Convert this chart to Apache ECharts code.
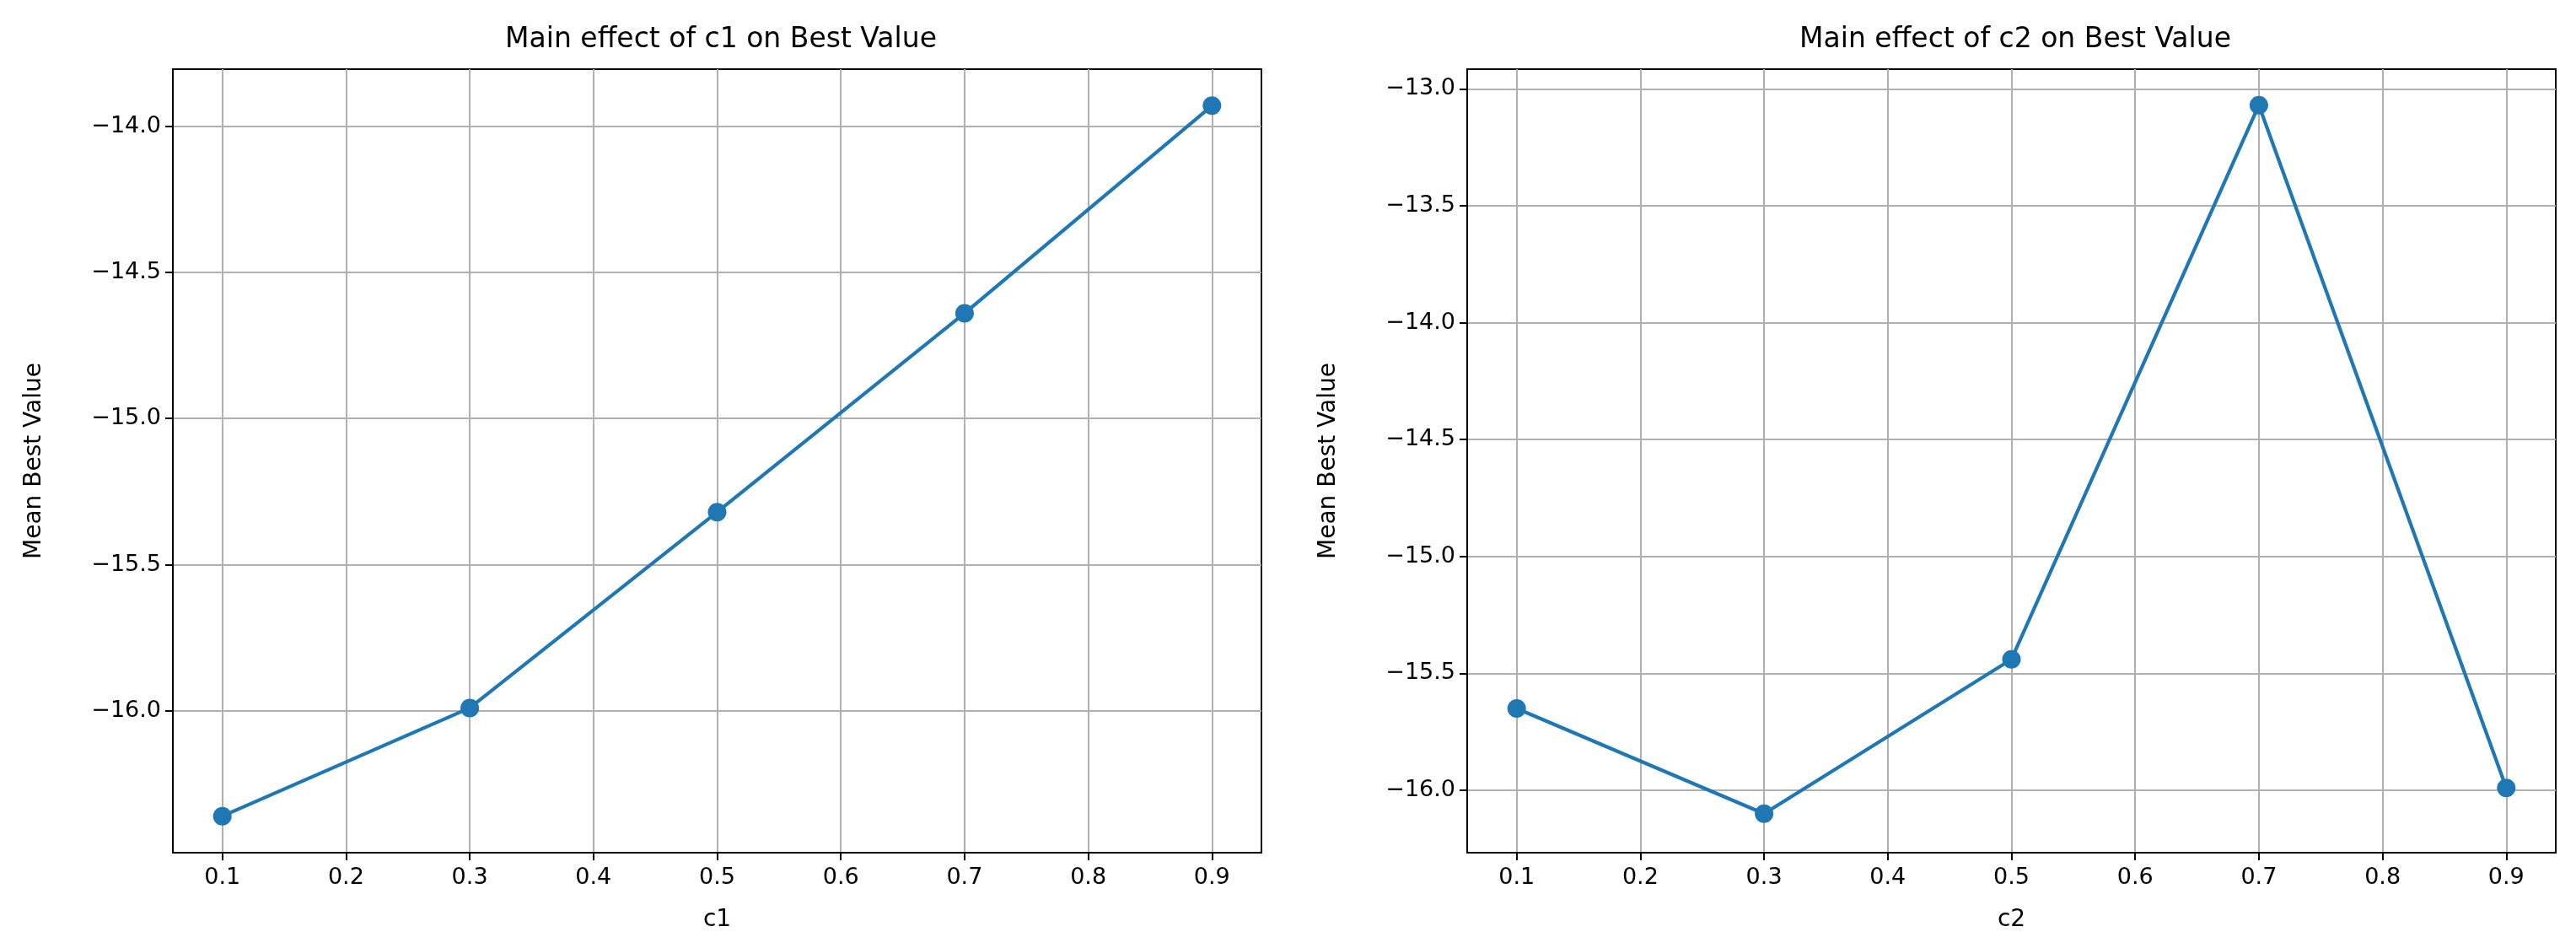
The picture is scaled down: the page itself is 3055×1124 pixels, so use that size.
<!DOCTYPE html>
<html><head><meta charset="utf-8">
<script src="https://cdn.jsdelivr.net/npm/echarts@6/dist/echarts.min.js"></script>
<style>html,body{margin:0;background:#fff}#c{width:3055px;height:1124px}</style>
</head><body><div id="c"></div>
<script>
const xLevels = [0.1, 0.3, 0.5, 0.7, 0.9];
const c1Values = [-16.36, -15.99, -15.32, -14.64, -13.93];
const c2Values = [-15.65, -16.10, -15.44, -13.07, -15.99];
const xTicks = [0.1, 0.2, 0.3, 0.4, 0.5, 0.6, 0.7, 0.8, 0.9];
const yTicksLeft = [-16.0, -15.5, -15.0, -14.5, -14.0];
const yTicksRight = [-16.0, -15.5, -15.0, -14.5, -14.0, -13.5, -13.0];

const chart = echarts.init(document.getElementById('c'));
const font = 'DejaVu Sans';
const fmt = v => (v < 0 ? '\u2212' : '') + Math.abs(v).toFixed(1);
function xAxis(i, name) {
  return {type:'value', gridIndex:i, min:0.06, max:0.94, name, nameLocation:'middle', nameGap:66,
    nameTextStyle:{fontFamily:font, fontSize:28, color:'#000'},
    axisLine:{show:true, lineStyle:{color:'#000', width:2}},
    axisTick:{show:true, length:9, lineStyle:{color:'#000', width:2}, customValues:xTicks},
    axisLabel:{fontFamily:font, fontSize:27, color:'#000', margin:16, formatter:v=>v.toFixed(1), customValues:xTicks},
    splitLine:{show:true, lineStyle:{color:'#b0b0b0', width:2}}};
}
function yAxis(i, min, max, ticks) {
  return {type:'value', gridIndex:i, min, max, name:'Mean Best Value', nameLocation:'middle', nameGap:150,
    nameTextStyle:{fontFamily:font, fontSize:28, color:'#000'},
    axisLine:{show:true, lineStyle:{color:'#000', width:2}},
    axisTick:{show:true, length:9, lineStyle:{color:'#000', width:2}, customValues:ticks},
    axisLabel:{fontFamily:font, fontSize:27, color:'#000', margin:14, formatter:fmt, customValues:ticks},
    splitLine:{show:true, lineStyle:{color:'#b0b0b0', width:2}}};
}
function series(i, vals) {
  return {type:'line', xAxisIndex:i, yAxisIndex:i, data:xLevels.map((x,k)=>[x, vals[k]]),
    symbol:'circle', symbolSize:22, lineStyle:{color:'#1f77b4', width:4.2},
    itemStyle:{color:'#1f77b4'}, animation:false};
}
chart.setOption({
  backgroundColor:'#fff',
  title:[
    {text:'Main effect of c1 on Best Value', left:850, top:26, textAlign:'center', textStyle:{fontFamily:font, fontSize:33, fontWeight:'normal', color:'#000'}},
    {text:'Main effect of c2 on Best Value', left:2385, top:26, textAlign:'center', textStyle:{fontFamily:font, fontSize:33, fontWeight:'normal', color:'#000'}}
  ],
  grid:[
    {left:205, top:82, width:1291, height:929, show:true, borderColor:'#000', borderWidth:2, backgroundColor:'transparent'},
    {left:1740, top:82, width:1291, height:929, show:true, borderColor:'#000', borderWidth:2, backgroundColor:'transparent'}
  ],
  xAxis:[xAxis(0,'c1'), xAxis(1,'c2')],
  yAxis:[yAxis(0,-16.485,-13.805,yTicksLeft), yAxis(1,-16.267,-12.916,yTicksRight)],
  series:[series(0,c1Values), series(1,c2Values)]
});
</script></body></html>
